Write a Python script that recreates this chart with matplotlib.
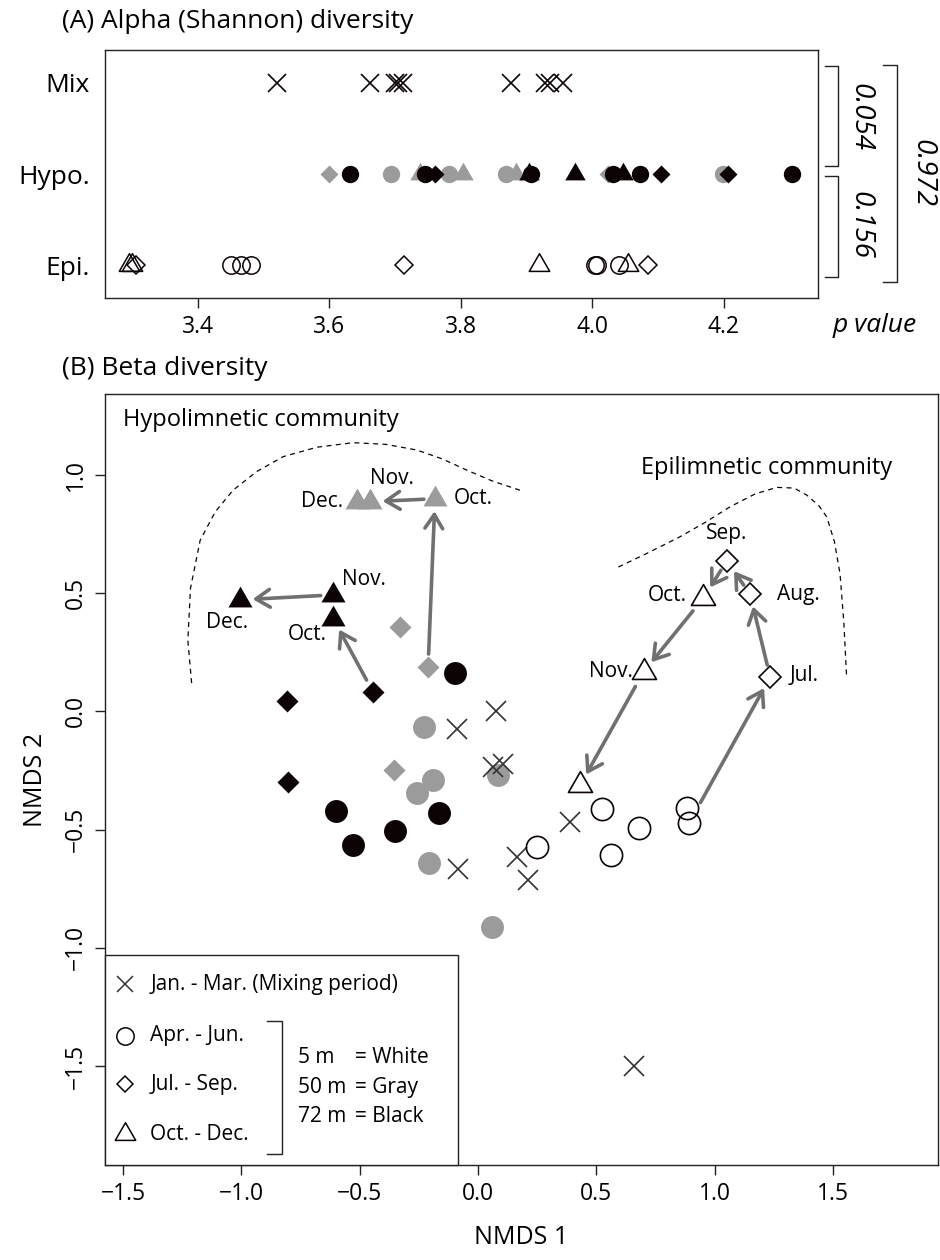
import matplotlib
matplotlib.use("Agg")
import matplotlib.pyplot as plt
import matplotlib.transforms as mtransforms
from matplotlib.patches import Rectangle
from matplotlib.path import Path

plt.rcParams['font.family'] = ['Open Sans', 'DejaVu Sans']

BLACK = '#0c0404'
GRAY = '#9b9b9b'
ARROW = '#707070'
EDGE = '#222222'

# closed triangle centred on its centroid, like R's pch 2 / 17
TRI = Path([(0, 1), (-0.866, -0.5), (0.866, -0.5), (0, 1)],
           [Path.MOVETO, Path.LINETO, Path.LINETO, Path.CLOSEPOLY])

# ---------------- (A) Alpha (Shannon) diversity ----------------
row_labels = ['Epi.', 'Hypo.', 'Mix']
row_pos = [1, 2, 3]
a_ticks = [3.4, 3.6, 3.8, 4.0, 4.2]

mix_cross = [3.52, 3.662, 3.70, 3.705, 3.712, 3.877, 3.928, 3.935, 3.955]

hypo50_circle = [3.694, 3.782, 3.868, 4.198]
hypo50_diamond = [3.600, 4.024]
hypo50_triangle = [3.738, 3.803, 3.884]

hypo72_circle = [3.632, 3.745, 3.907, 4.032, 4.072, 4.303]
hypo72_diamond = [3.760, 4.105, 4.206]
hypo72_triangle = [3.903, 3.973, 4.046]

epi_circle = [3.451, 3.466, 3.481, 4.004, 4.007, 4.040]
epi_diamond = [3.306, 3.713, 4.084]
epi_triangle = [3.296, 3.300, 3.919, 4.054]

# p values of the pairwise tests
p_labels = ['0.054', '0.156', '0.972']

# ---------------- (B) Beta diversity (NMDS) ----------------
mix_x = [0.075, -0.089, 0.106, 0.063, -0.084, 0.166, 0.213, 0.387, 0.659]
mix_y = [0.000, -0.076, -0.221, -0.236, -0.665, -0.614, -0.712, -0.469, -1.500]

w_circ_x = [0.525, 0.884, 0.891, 0.678, 0.562, 0.248]
w_circ_y = [-0.412, -0.408, -0.473, -0.494, -0.606, -0.572]
w_dia_x = [1.234, 1.149, 1.051]          # Jul, Aug, Sep
w_dia_y = [0.145, 0.496, 0.637]
w_tri_x = [0.952, 0.699, 0.431]          # Oct, Nov, Dec
w_tri_y = [0.480, 0.167, -0.313]

g_circ_x = [-0.228, -0.190, -0.259, -0.207, 0.085, 0.058]
g_circ_y = [-0.064, -0.288, -0.346, -0.643, -0.271, -0.911]
g_dia_x = [-0.355, -0.330, -0.211]       # Jul, Aug, Sep
g_dia_y = [-0.246, 0.356, 0.190]
g_tri_x = [-0.182, -0.456, -0.512]       # Oct, Nov, Dec
g_tri_y = [0.900, 0.887, 0.887]

b_circ_x = [-0.097, -0.601, -0.530, -0.351, -0.165]
b_circ_y = [0.161, -0.422, -0.564, -0.508, -0.431]
b_dia_x = [-0.808, -0.803, -0.443]       # Jul, Aug, Sep
b_dia_y = [0.043, -0.297, 0.081]
b_tri_x = [-0.612, -0.612, -1.005]       # Oct, Nov, Dec
b_tri_y = [0.393, 0.493, 0.472]

# month labels
month_text = ['Jul.', 'Aug.', 'Sep.', 'Oct.', 'Nov.',
              'Oct.', 'Nov.', 'Dec.',
              'Oct.', 'Nov.', 'Dec.']
month_x = [1.318, 1.262, 1.050, 0.882, 0.656,
           -0.101, -0.365, -0.569,
           -0.639, -0.576, -1.062]
month_y = [0.150, 0.496, 0.754, 0.490, 0.170,
           0.900, 0.986, 0.887,
           0.326, 0.560, 0.378]
month_ha = ['left', 'left', 'center', 'right', 'right',
            'left', 'center', 'right',
            'right', 'left', 'center']

# dashed outlines of the two communities
hypo_line_x = [-1.210, -1.226, -1.215, -1.174, -1.110, -1.035, -0.935, -0.823,
               -0.680, -0.527, -0.390, -0.259, -0.150, -0.048, 0.060, 0.177]
hypo_line_y = [0.120, 0.300, 0.520, 0.724, 0.845, 0.936, 1.015, 1.078,
               1.118, 1.137, 1.130, 1.106, 1.068, 1.021, 0.975, 0.936]
epi_line_x = [0.593, 0.720, 0.853, 0.960, 1.065, 1.170, 1.262, 1.335, 1.389,
              1.440, 1.473, 1.505, 1.529, 1.545, 1.557]
epi_line_y = [0.611, 0.672, 0.739, 0.800, 0.866, 0.920, 0.948, 0.945, 0.915,
              0.870, 0.823, 0.720, 0.583, 0.380, 0.145]

fig = plt.figure(figsize=(9.4, 12.6), dpi=100)


def style_spines(ax):
    for s in ax.spines.values():
        s.set_linewidth(1.0)
        s.set_color(EDGE)


# ======================= panel A =======================
axA = fig.add_axes([105 / 940, 1 - 298 / 1260, 713 / 940, 248 / 1260])
style_spines(axA)

ms_kw = dict(linestyle='none')
axA.plot(mix_cross, [3] * len(mix_cross), marker='x', ms=13, mew=1.2, color=BLACK, **ms_kw)

axA.plot(epi_circle, [1] * len(epi_circle), marker='o', ms=12.5, mfc='none', mec=BLACK, mew=1.1, **ms_kw)
axA.plot(epi_diamond, [1] * len(epi_diamond), marker='D', ms=9.6, mfc='none', mec=BLACK, mew=1.1, **ms_kw)
axA.plot(epi_triangle, [1] * len(epi_triangle), marker=TRI, ms=17, mfc='none', mec=BLACK, mew=1.1, **ms_kw)

axA.plot(hypo50_circle, [2] * len(hypo50_circle), marker='o', ms=12.5, color=GRAY, mec='none', **ms_kw)
axA.plot(hypo50_diamond, [2] * len(hypo50_diamond), marker='D', ms=9.6, color=GRAY, mec='none', **ms_kw)
axA.plot(hypo50_triangle, [2] * len(hypo50_triangle), marker=TRI, ms=17, color=GRAY, mec='none', **ms_kw)
axA.plot(hypo72_circle, [2] * len(hypo72_circle), marker='o', ms=12.5, color=BLACK, mec='none', **ms_kw)
axA.plot(hypo72_diamond, [2] * len(hypo72_diamond), marker='D', ms=9.6, color=BLACK, mec='none', **ms_kw)
axA.plot(hypo72_triangle, [2] * len(hypo72_triangle), marker=TRI, ms=17, color=BLACK, mec='none', **ms_kw)

axA.set_xticks(a_ticks)
axA.set_xticklabels([f'{t:.1f}' for t in a_ticks], fontsize=16.5)
axA.set_yticks(row_pos)
axA.set_yticklabels(row_labels, fontsize=19)
axA.set_xlim(3.259, 4.343)
axA.set_ylim(0.64, 3.36)
axA.tick_params(axis='x', length=7, width=1.0, color=EDGE, pad=5)
axA.tick_params(axis='y', length=0, pad=11)

# brackets with p values
tr = mtransforms.blended_transform_factory(axA.transAxes, axA.transData)
brackets = [(1.010, 1.028, 2.09, 3.18), (1.010, 1.028, 0.87, 1.98), (1.091, 1.111, 0.82, 3.20)]
label_pos = [(1.060, 2.63), (1.060, 1.44), (1.147, 2.01)]
for (xt, xl, y0, y1), (lx, ly), lab in zip(brackets, label_pos, p_labels):
    axA.plot([xt, xl, xl, xt], [y1, y1, y0, y0], transform=tr, clip_on=False,
             color=EDGE, lw=1.0)
    axA.text(lx, ly, lab, transform=tr, rotation=-90, ha='center', va='center',
             fontsize=20, style='italic')

fig.text(833 / 940, 1 - 325 / 1260, 'p value', style='italic', fontsize=19,
         ha='left', va='center')
fig.text(62 / 940, 1 - 22 / 1260, '(A) Alpha (Shannon) diversity', fontsize=19,
         ha='left', va='center')

# ======================= panel B =======================
axB = fig.add_axes([105 / 940, 1 - 1165 / 1260, 833 / 940, 771 / 1260])
style_spines(axB)

axB.plot(hypo_line_x, hypo_line_y, color=BLACK, lw=0.9, dashes=(4, 3.5))
axB.plot(epi_line_x, epi_line_y, color=BLACK, lw=0.9, dashes=(4, 3.5))

axB.plot(mix_x, mix_y, marker='x', ms=14, mew=1.2, color='#333333', ls='none', zorder=4)
axB.plot(w_circ_x, w_circ_y, marker='o', ms=16, mfc='none', mec=BLACK, mew=1.2, ls='none', zorder=4)
axB.plot(w_dia_x, w_dia_y, marker='D', ms=11, mfc='white', mec=BLACK, mew=1.2, ls='none', zorder=4)
axB.plot(w_tri_x, w_tri_y, marker=TRI, ms=20, mfc='white', mec=BLACK, mew=1.2, ls='none', zorder=4)

axB.plot(g_circ_x, g_circ_y, marker='o', ms=16.5, color=GRAY, mec='none', ls='none', zorder=3)
axB.plot(g_dia_x, g_dia_y, marker='D', ms=11, color=GRAY, mec='none', ls='none', zorder=3)
axB.plot(g_tri_x, g_tri_y, marker=TRI, ms=20, color=GRAY, mec='none', ls='none', zorder=3)

axB.plot(b_circ_x, b_circ_y, marker='o', ms=16.5, color=BLACK, mec='none', ls='none', zorder=3)
axB.plot(b_dia_x, b_dia_y, marker='D', ms=11, color=BLACK, mec='none', ls='none', zorder=3)
axB.plot(b_tri_x, b_tri_y, marker=TRI, ms=20, color=BLACK, mec='none', ls='none', zorder=3)

# seasonal trajectories between consecutive months
paths = [
    ((w_circ_x[2], w_circ_y[2]), (w_dia_x[0], w_dia_y[0]), 17),
    ((w_dia_x[0], w_dia_y[0]), (w_dia_x[1], w_dia_y[1]), 9),
    ((w_dia_x[1], w_dia_y[1]), (w_dia_x[2], w_dia_y[2]), 8),
    ((w_dia_x[2], w_dia_y[2]), (w_tri_x[0], w_tri_y[0]), 8),
    ((w_tri_x[0], w_tri_y[0]), (w_tri_x[1], w_tri_y[1]), 12),
    ((w_tri_x[1], w_tri_y[1]), (w_tri_x[2], w_tri_y[2]), 12),
    ((g_dia_x[2], g_dia_y[2]), (g_tri_x[0], g_tri_y[0]), 9),
    ((g_tri_x[0], g_tri_y[0]), (g_tri_x[1], g_tri_y[1]), 8),
    ((b_dia_x[2], b_dia_y[2]), (b_tri_x[0], b_tri_y[0]), 10),
    ((b_tri_x[1], b_tri_y[1]), (b_tri_x[2], b_tri_y[2]), 9),
]
for (p0, p1, sa) in paths:
    axB.annotate('', xy=p1, xytext=p0,
                 arrowprops=dict(arrowstyle='->,head_length=0.5,head_width=0.32',
                                 color=ARROW, lw=2.6, mutation_scale=20,
                                 shrinkA=sa, shrinkB=9),
                 zorder=2)

for t, x, y, ha in zip(month_text, month_x, month_y, month_ha):
    axB.text(x, y, t, ha=ha, va='center', fontsize=15, zorder=5)

axB.text(-1.498, 1.233, 'Hypolimnetic community', fontsize=17, ha='left', va='center')
axB.text(0.690, 1.030, 'Epilimnetic community', fontsize=17, ha='left', va='center')

x_ticks = [-1.5, -1.0, -0.5, 0.0, 0.5, 1.0, 1.5]
y_ticks = [-1.5, -1.0, -0.5, 0.0, 0.5, 1.0]
fmt = lambda t: f'{t:.1f}'.replace('-', '\u2212')
axB.set_xticks(x_ticks)
axB.set_xticklabels([fmt(t) for t in x_ticks], fontsize=16.5)
axB.set_yticks(y_ticks)
axB.set_yticklabels([fmt(t) for t in y_ticks], fontsize=16.5, rotation=90, va='center')
axB.set_xlim(-1.576, 1.943)
axB.set_ylim(-1.919, 1.343)
axB.tick_params(length=7, width=1.0, color=EDGE, pad=5)
axB.set_xlabel('NMDS 1', fontsize=18, labelpad=14)
axB.set_ylabel('NMDS 2', fontsize=18, labelpad=12)

fig.text(62 / 940, 1 - 368 / 1260, '(B) Beta diversity', fontsize=19,
         ha='left', va='center')

# ---- legend box drawn inside the NMDS panel ----
axB.add_patch(Rectangle((-1.576, -1.919), 1.491, 0.889, facecolor='white',
                        edgecolor=EDGE, lw=1.0, zorder=6, clip_on=False))
leg_text = ['Jan. - Mar. (Mixing period)', 'Apr. - Jun.', 'Jul. - Sep.', 'Oct. - Dec.']
leg_marker = ['x', 'o', 'D', TRI]
leg_ms = [11, 12.5, 8.5, 17]
leg_y = [-1.154, -1.373, -1.578, -1.788]
for t, m, s, y in zip(leg_text, leg_marker, leg_ms, leg_y):
    if m == 'x':
        axB.plot([-1.491], [y], marker=m, ms=s, mew=1.1, color='#333333', zorder=7)
    else:
        axB.plot([-1.491], [y], marker=m, ms=s, mfc='none', mec=BLACK, mew=1.1, zorder=7)
    axB.text(-1.385, y, t, fontsize=15, ha='left', va='center', zorder=7)

axB.plot([-0.893, -0.829, -0.829, -0.893], [-1.309, -1.309, -1.874, -1.874],
         color=EDGE, lw=1.0, zorder=7)
depth_text = ['5 m', '50 m', '72 m']
colour_text = ['= White', '= Gray', '= Black']
depth_y = [-1.465, -1.592, -1.712]
for d, c, y in zip(depth_text, colour_text, depth_y):
    axB.text(-0.759, y, d, fontsize=15, ha='left', va='center', zorder=7)
    axB.text(-0.520, y, c, fontsize=15, ha='left', va='center', zorder=7)

fig.savefig('out.png', dpi=100)
